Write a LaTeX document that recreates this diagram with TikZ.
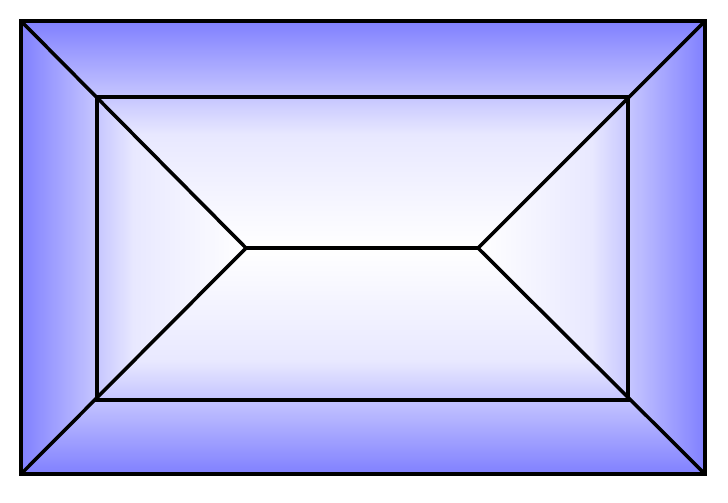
\documentclass[tikz,border=0pt]{standalone}
\usepackage{tikz}
\usetikzlibrary{positioning}
\definecolor{edgeblue}{HTML}{8080FF}
\colorlet{midblue}{edgeblue!18!white}

\begin{document}
\begin{tikzpicture}[x=0.01cm, y=-0.01cm, edge/.style={line width=1pt, black}]
\useasboundingbox (0,0) rectangle (728,502);
% corners and the two middle points
\coordinate (otl) at (21,21);
\coordinate (otr) at (705,21);
\coordinate (obr) at (705,474);
\coordinate (obl) at (21,474);
\coordinate (itl) at (97,97);
\coordinate (itr) at (628,97);
\coordinate (ibr) at (628,400);
\coordinate (ibl) at (97,400);
\coordinate (ml) at (246,248);
\coordinate (mr) at (478,248);

% shading, one piece per side
\shade[top color=edgeblue, bottom color=white, middle color=midblue] (otl) -- (otr) -- (mr) -- (ml) -- cycle;
\shade[bottom color=edgeblue, top color=white, middle color=midblue] (obl) -- (obr) -- (mr) -- (ml) -- cycle;
\shade[left color=edgeblue, right color=white, middle color=midblue] (otl) -- (ml) -- (obl) -- cycle;
\shade[right color=edgeblue, left color=white, middle color=midblue] (otr) -- (mr) -- (obr) -- cycle;

% frames
\draw[edge] (otl) rectangle (obr);
\draw[edge] (itl) rectangle (ibr);
% ridge and diagonals
\draw[edge] (ml) -- (mr);
\draw[edge] (otl) -- (ml) -- (obl);
\draw[edge] (otr) -- (mr) -- (obr);
\end{tikzpicture}
\end{document}
